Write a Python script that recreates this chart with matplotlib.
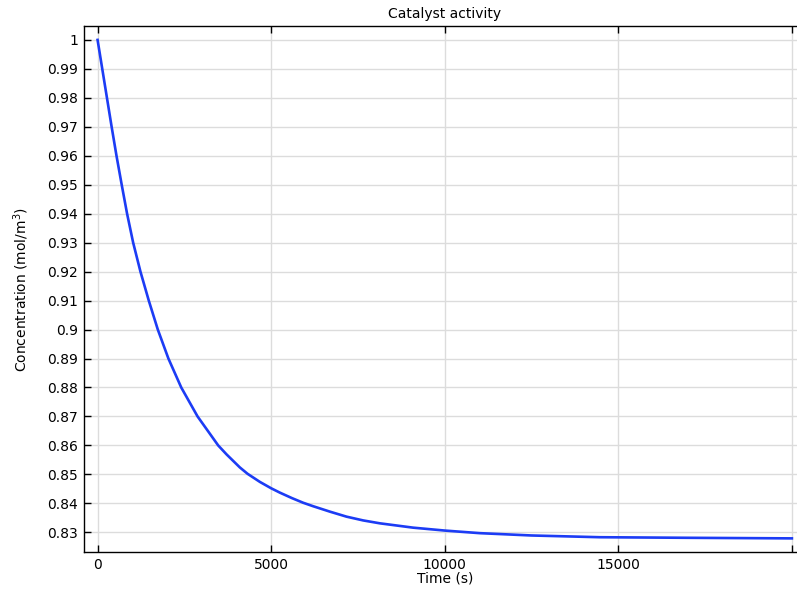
import matplotlib
matplotlib.use('Agg')
from matplotlib import pyplot as plt
from matplotlib.ticker import FixedLocator, FuncFormatter

# values
time_s = [0, 135, 270, 405, 545, 695, 850, 1025, 1235, 1475, 1735, 2040, 2410, 2880,
          3474, 3715, 4098, 4320, 4675, 5000, 5250, 5600, 5922, 6210, 6700, 7171, 7650,
          8131, 9090, 10000, 11011, 12500, 14466, 17000, 20000]
conc = [1.0, 0.99, 0.98, 0.97, 0.96, 0.95, 0.94, 0.93, 0.92, 0.91, 0.90, 0.89, 0.88, 0.87,
        0.86, 0.8569, 0.8524, 0.8502, 0.8474, 0.8452, 0.8437, 0.8418, 0.8402, 0.8390, 0.8371,
        0.8354, 0.8341, 0.8331, 0.8316, 0.8306, 0.8297, 0.8289, 0.8283, 0.8281, 0.8279]

x_ticks = [0, 5000, 10000, 15000, 20000]
x_labels = ['0', '5000', '10000', '15000', '']
y_ticks = [0.83 + 0.01 * i for i in range(18)]

plt.rcParams['font.family'] = 'DejaVu Sans'
plt.rcParams['font.size'] = 10

fig = plt.figure(figsize=(7.97, 5.95), dpi=100)
ax = fig.add_axes([0.105, 0.0718, 0.906, 0.8845])

ax.plot(time_s, conc, color='#1c3cf5', lw=1.9, zorder=3, solid_joinstyle='round')

ax.set_xlim(-400, 20400)
ax.set_ylim(0.8231, 1.0048)
ax.xaxis.set_major_locator(FixedLocator(x_ticks))
ax.set_xticklabels(x_labels)
ax.yaxis.set_major_locator(FixedLocator(y_ticks))
ax.yaxis.set_major_formatter(FuncFormatter(lambda v, p: f'{v:.2f}'.rstrip('0').rstrip('.')))

ax.grid(True, color='#dcdcdc', lw=1.0)
ax.set_axisbelow(True)
ax.tick_params(direction='in', length=5, width=1, top=True, right=True, pad=4)
for s in ax.spines.values():
    s.set_linewidth(1.0)

ax.set_title('Catalyst activity', fontsize=10, pad=6)
ax.set_xlabel('Time (s)', labelpad=0)
ax.set_ylabel('Concentration (mol/m$^3$)', labelpad=12)

fig.savefig('out.png', dpi=100)
